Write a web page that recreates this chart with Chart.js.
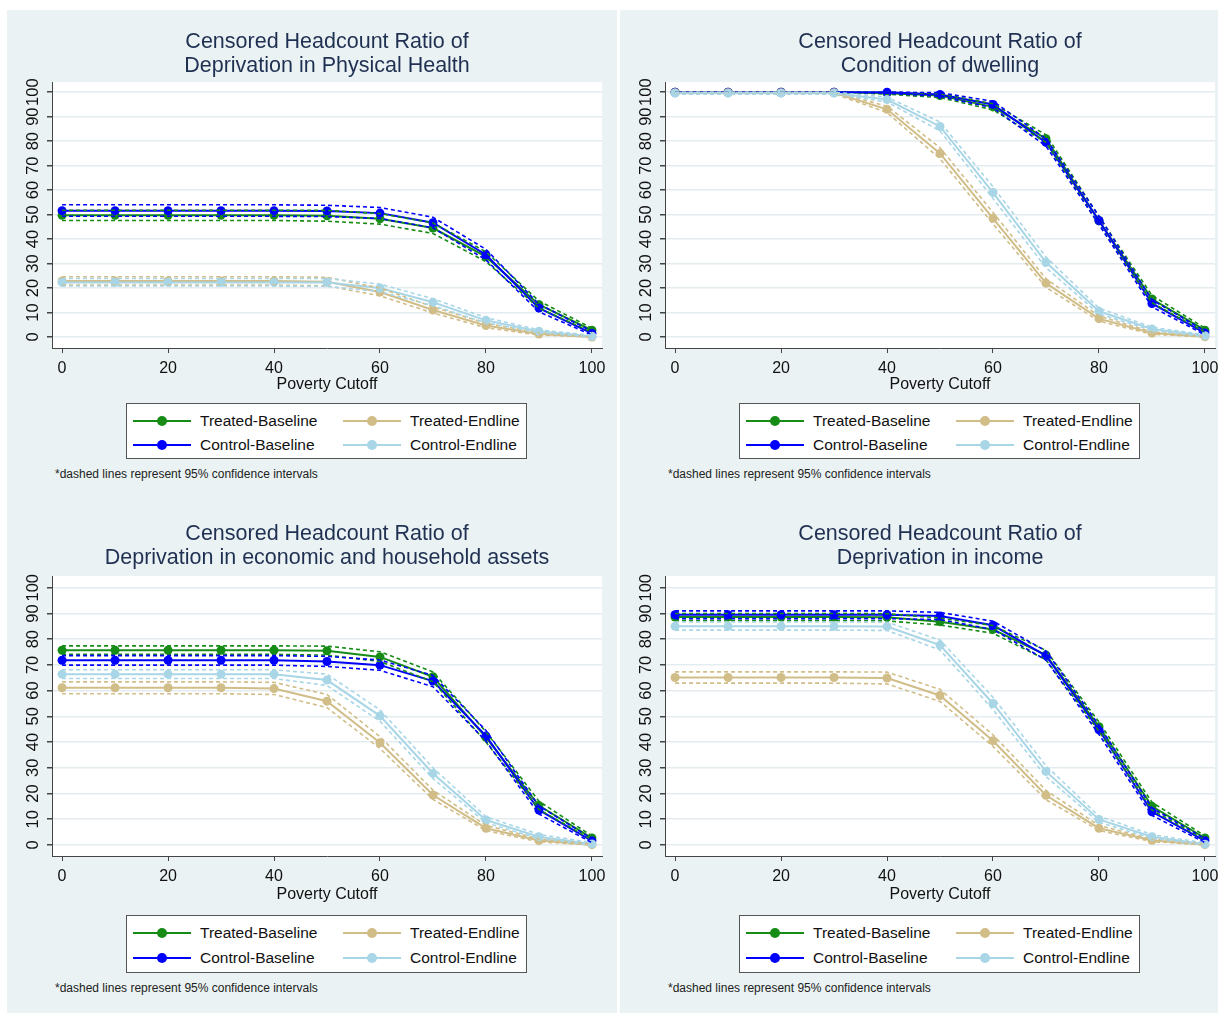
<!DOCTYPE html>
<html>
<head>
<meta charset="utf-8">
<title>Censored Headcount Ratios</title>
<script src="https://cdn.jsdelivr.net/npm/chart.js@4.4.0/dist/chart.umd.min.js"></script>
<style>
    html, body { margin: 0; padding: 0; background: #fff; }
    body { width: 1218px; height: 1013px; position: relative; overflow: hidden; font-family: "Liberation Sans", Arial, sans-serif; }
    .panel { position: absolute; background: #eaf2f3; overflow: hidden; }
    .panel canvas { position: absolute; left: 0; top: 0; }
    .legend { position: absolute; left: 119px; width: 401px; box-sizing: border-box; background: #fff; border: 1px solid #555; }
    .item { position: absolute; height: 20px; width: 200px; font-size: 15.5px; color: #111; line-height: 20px; }
    .item .swatch { position: absolute; left: 0; top: 9px; width: 58px; height: 2px; }
    .item .swatch i { position: absolute; left: 24px; top: -4px; width: 10px; height: 10px; border-radius: 50%; background: inherit; }
    .item span { position: absolute; left: 67px; white-space: nowrap; }
    .note { position: absolute; left: 48px; font-size: 12px; line-height: 14px; color: #222; white-space: nowrap; }
</style>
</head>
<body>
<div class="panel" id="p0" style="left:7px; top:10px; width:610px; height:492px;"></div>
<div class="panel" id="p1" style="left:620px; top:10px; width:610px; height:492px;"></div>
<div class="panel" id="p2" style="left:7px; top:502px; width:610px; height:511px;"></div>
<div class="panel" id="p3" style="left:620px; top:502px; width:610px; height:511px;"></div>

<script>
"use strict";

const cutoffs = [0, 10, 20, 30, 40, 50, 60, 70, 80, 90, 100];
const xTicks = [0, 20, 40, 60, 80, 100];
const yTicks = [0, 10, 20, 30, 40, 50, 60, 70, 80, 90, 100];

const seriesNames = ['Treated-Baseline', 'Control-Baseline', 'Treated-Endline', 'Control-Endline'];
const seriesColors = ['#168c16', '#0000ff', '#d1bd88', '#a9d6e6'];

// Deprivation in Physical Health
const physTB   = [49.7, 49.7, 49.7, 49.7, 49.7, 49.5, 48.3, 44.5, 32.8, 13.2, 2.8];
const physTBLo = [47.6, 47.6, 47.6, 47.6, 47.6, 47.3, 46.1, 42.3, 30.8, 11.8, 2.0];
const physTBHi = [51.8, 51.8, 51.8, 51.8, 51.8, 51.7, 50.4, 46.6, 34.8, 14.7, 3.6];
const physCB   = [51.6, 51.6, 51.6, 51.6, 51.6, 51.5, 50.6, 46.7, 33.6, 11.8, 1.5];
const physCBLo = [49.3, 49.3, 49.3, 49.3, 49.3, 49.2, 48.4, 44.6, 31.5, 10.3, 0.8];
const physCBHi = [54.0, 54.0, 54.0, 54.0, 54.0, 53.8, 52.9, 48.9, 35.8, 13.4, 2.3];
const physTE   = [22.9, 22.9, 22.9, 22.9, 22.9, 22.6, 18.4, 11.0, 4.7, 1.2, 0.0];
const physTELo = [21.2, 21.2, 21.2, 21.2, 21.2, 20.9, 16.8, 9.8, 3.8, 0.8, 0.0];
const physTEHi = [24.6, 24.6, 24.6, 24.6, 24.6, 24.4, 20.0, 12.3, 5.6, 1.7, 0.1];
const physCE   = [22.3, 22.3, 22.3, 22.3, 22.3, 22.3, 20.0, 14.2, 6.8, 2.3, 0.3];
const physCELo = [20.8, 20.8, 20.8, 20.8, 20.8, 20.7, 18.5, 12.8, 5.8, 1.8, 0.0];
const physCEHi = [23.9, 23.9, 23.9, 23.9, 23.9, 23.9, 21.6, 15.6, 7.9, 2.9, 0.7];

// Condition of dwelling
const dwelTB   = [100, 100, 100, 100, 99.6, 98.6, 94.0, 81.0, 47.5, 15.5, 2.8];
const dwelTBLo = [100, 100, 100, 100, 99.2, 97.8, 92.8, 79.5, 46.0, 14.0, 2.0];
const dwelTBHi = [100, 100, 100, 100, 100, 99.4, 95.3, 82.6, 49.2, 17.0, 3.6];
const dwelCB   = [100, 100, 100, 100, 100, 99.1, 95.0, 79.5, 47.6, 13.7, 1.6];
const dwelCBLo = [100, 100, 100, 100, 99.6, 98.3, 93.6, 78.0, 46.0, 12.3, 0.9];
const dwelCBHi = [100, 100, 100, 100, 100, 99.8, 96.3, 81.0, 49.4, 15.2, 2.4];
const dwelTE   = [99.8, 99.8, 99.8, 99.8, 93.0, 75.0, 48.5, 22.0, 7.5, 1.6, 0.1];
const dwelTELo = [99.5, 99.5, 99.5, 99.4, 91.7, 72.8, 46.2, 20.3, 6.5, 1.1, 0.0];
const dwelTEHi = [100, 100, 100, 100, 94.3, 77.3, 50.9, 23.8, 8.6, 2.1, 0.2];
const dwelCE   = [99.6, 99.6, 99.6, 99.6, 97.0, 86.0, 59.0, 30.5, 10.5, 3.3, 0.5];
const dwelCELo = [99.2, 99.2, 99.2, 99.2, 96.0, 84.2, 56.6, 28.3, 9.4, 2.7, 0.1];
const dwelCEHi = [100, 100, 100, 100, 98.0, 87.8, 61.4, 32.7, 11.8, 4.0, 0.9];

// Deprivation in economic and household assets
const assetTB   = [75.7, 75.7, 75.7, 75.7, 75.7, 75.5, 73.1, 65.4, 41.8, 15.3, 2.7];
const assetTBLo = [74.1, 74.1, 74.1, 74.1, 74.1, 73.8, 71.3, 63.5, 40.0, 13.8, 2.0];
const assetTBHi = [77.4, 77.4, 77.4, 77.4, 77.4, 77.3, 75.1, 67.3, 44.0, 17.0, 3.5];
const assetCB   = [71.8, 71.8, 71.8, 71.8, 71.8, 71.3, 69.9, 63.7, 42.4, 13.6, 1.6];
const assetCBLo = [69.9, 69.9, 69.9, 69.9, 69.9, 69.4, 67.9, 61.5, 40.4, 12.0, 0.9];
const assetCBHi = [73.6, 73.6, 73.6, 73.6, 73.6, 73.3, 71.9, 65.9, 44.5, 15.2, 2.4];
const assetTE   = [61.1, 61.1, 61.1, 61.1, 60.8, 55.9, 39.7, 19.4, 6.5, 1.7, 0.1];
const assetTELo = [58.8, 58.8, 58.8, 58.8, 58.5, 53.4, 37.5, 17.7, 5.6, 1.2, 0.0];
const assetTEHi = [63.4, 63.4, 63.4, 63.4, 63.2, 58.5, 42.1, 21.3, 7.6, 2.3, 0.3];
const assetCE   = [66.4, 66.4, 66.4, 66.4, 66.4, 64.1, 50.2, 27.8, 9.7, 3.2, 0.4];
const assetCELo = [64.7, 64.7, 64.7, 64.7, 64.7, 62.0, 48.1, 25.8, 8.6, 2.5, 0.0];
const assetCEHi = [68.1, 68.1, 68.1, 68.1, 68.1, 66.4, 52.5, 30.0, 11.0, 4.1, 0.9];

// Deprivation in income
const incTB   = [88.6, 88.6, 88.6, 88.6, 88.5, 86.8, 83.8, 73.8, 46.0, 15.0, 2.7];
const incTBLo = [87.2, 87.2, 87.2, 87.2, 87.1, 85.5, 82.3, 72.0, 44.2, 13.6, 2.0];
const incTBHi = [90.0, 90.0, 90.0, 90.0, 89.9, 88.2, 85.3, 75.6, 47.8, 16.6, 3.5];
const incCB   = [89.5, 89.5, 89.5, 89.5, 89.5, 89.0, 85.4, 73.6, 44.8, 12.9, 1.6];
const incCBLo = [88.0, 88.0, 88.0, 88.0, 88.0, 87.6, 83.8, 71.9, 43.0, 11.5, 0.9];
const incCBHi = [91.0, 91.0, 91.0, 91.0, 91.0, 90.4, 87.0, 75.4, 46.6, 14.4, 2.4];
const incTE   = [65.1, 65.1, 65.1, 65.1, 64.9, 58.1, 40.5, 19.3, 6.5, 1.8, 0.1];
const incTELo = [62.9, 62.9, 62.9, 62.9, 62.6, 55.8, 38.3, 17.6, 5.6, 1.3, 0.0];
const incTEHi = [67.3, 67.3, 67.3, 67.3, 67.2, 60.5, 42.8, 21.2, 7.6, 2.3, 0.3];
const incCE   = [85.0, 85.0, 85.0, 85.0, 84.9, 77.7, 55.0, 28.6, 9.9, 3.2, 0.3];
const incCELo = [83.5, 83.5, 83.5, 83.5, 83.4, 75.8, 52.6, 26.6, 8.8, 2.6, 0.0];
const incCEHi = [86.7, 86.7, 86.7, 86.7, 86.6, 79.7, 57.4, 30.8, 11.2, 4.0, 0.8];

const panels = [
    {
        id: 'p0', title: ['Censored Headcount Ratio of', 'Deprivation in Physical Health'],
        main: [physTB, physCB, physTE, physCE],
        lo: [physTBLo, physCBLo, physTELo, physCELo],
        hi: [physTBHi, physCBHi, physTEHi, physCEHi],
        canvasH: 390, titleGap: 4, xHeight: 46, padBottom: 6, yMin: -4.5, yMax: 104.1,
        legendTop: 393, legendH: 56, rows: [7, 31], noteTop: 457
    },
    {
        id: 'p1', title: ['Censored Headcount Ratio of', 'Condition of dwelling'],
        main: [dwelTB, dwelCB, dwelTE, dwelCE],
        lo: [dwelTBLo, dwelCBLo, dwelTELo, dwelCELo],
        hi: [dwelTBHi, dwelCBHi, dwelTEHi, dwelCEHi],
        canvasH: 390, titleGap: 4, xHeight: 46, padBottom: 6, yMin: -4.5, yMax: 104.1,
        legendTop: 393, legendH: 56, rows: [7, 31], noteTop: 457
    },
    {
        id: 'p2', title: ['Censored Headcount Ratio of', 'Deprivation in economic and household assets'],
        main: [assetTB, assetCB, assetTE, assetCE],
        lo: [assetTBLo, assetCBLo, assetTELo, assetCELo],
        hi: [assetTBHi, assetCBHi, assetTEHi, assetCEHi],
        canvasH: 404, titleGap: 6, xHeight: 48, padBottom: 2, yMin: -4.3, yMax: 104.5,
        legendTop: 413, legendH: 58, rows: [7, 32], noteTop: 479
    },
    {
        id: 'p3', title: ['Censored Headcount Ratio of', 'Deprivation in income'],
        main: [incTB, incCB, incTE, incCE],
        lo: [incTBLo, incCBLo, incTELo, incCELo],
        hi: [incTBHi, incCBHi, incTEHi, incCEHi],
        canvasH: 404, titleGap: 6, xHeight: 48, padBottom: 2, yMin: -4.3, yMax: 104.5,
        legendTop: 413, legendH: 58, rows: [7, 32], noteTop: 479
    }
];

const fontFamily = '"Liberation Sans", Arial, sans-serif';
const axisColor = '#444';

// white plot region like Stata's plotregion
const plotBg = {
    id: 'plotBg',
    beforeDraw(chart) {
        const {ctx, chartArea} = chart;
        ctx.save();
        ctx.fillStyle = '#ffffff';
        ctx.fillRect(chartArea.left, chartArea.top, chartArea.right - chartArea.left, chartArea.bottom - chartArea.top);
        ctx.restore();
    }
};

function points(values) {
    return cutoffs.map((c, i) => ({x: c, y: values[i]}));
}

function buildDatasets(p) {
    let datasets = [];
    for (let i = 0; i < 4; i++) {
        datasets.push({
            label: seriesNames[i],
            data: points(p.main[i]),
            borderColor: seriesColors[i],
            backgroundColor: seriesColors[i],
            borderWidth: 2,
            pointRadius: 4.5,
            pointBorderWidth: 0,
            tension: 0,
            order: 10 - i
        });
        for (const band of [p.lo[i], p.hi[i]]) {
            datasets.push({
                label: seriesNames[i] + ' CI',
                data: points(band),
                borderColor: seriesColors[i],
                borderWidth: 1.6,
                borderDash: [4, 3],
                pointRadius: 0,
                tension: 0,
                order: 5 - i
            });
        }
    }
    return datasets;
}

function makeLegend(panelEl, p) {
    const box = document.createElement('div');
    box.className = 'legend';
    box.style.top = p.legendTop + 'px';
    box.style.height = p.legendH + 'px';
    // columns: Treated on top row, Control on bottom row
    const spots = [[6, 0], [6, 1], [216, 0], [216, 1]];
    for (let i = 0; i < 4; i++) {
        const item = document.createElement('div');
        item.className = 'item';
        item.style.left = spots[i][0] + 'px';
        item.style.top = p.rows[spots[i][1]] + 'px';
        const sw = document.createElement('div');
        sw.className = 'swatch';
        sw.style.background = seriesColors[i];
        sw.appendChild(document.createElement('i'));
        const txt = document.createElement('span');
        txt.textContent = seriesNames[i];
        item.appendChild(sw);
        item.appendChild(txt);
        box.appendChild(item);
    }
    panelEl.appendChild(box);

    const note = document.createElement('div');
    note.className = 'note';
    note.style.top = p.noteTop + 'px';
    note.textContent = '*dashed lines represent 95% confidence intervals';
    panelEl.appendChild(note);
}

for (const p of panels) {
    const panelEl = document.getElementById(p.id);
    const canvas = document.createElement('canvas');
    canvas.width = 610;
    canvas.height = p.canvasH;
    panelEl.appendChild(canvas);

    new Chart(canvas, {
        type: 'line',
        data: {datasets: buildDatasets(p)},
        options: {
            responsive: false,
            animation: false,
            devicePixelRatio: 1,
            layout: {padding: {top: 0, right: 15, bottom: p.padBottom, left: 0}},
            plugins: {
                legend: {display: false},
                tooltip: {enabled: false},
                title: {
                    display: true,
                    fullSize: false, // center over the plot region, as Stata does
                    text: p.title,
                    color: '#1f3052',
                    font: {family: fontFamily, size: 21.5, weight: 'normal', lineHeight: 1.12},
                    padding: {top: 20, bottom: p.titleGap}
                }
            },
            scales: {
                x: {
                    type: 'linear',
                    min: -1.9,
                    max: 101.9,
                    afterBuildTicks: scale => { scale.ticks = xTicks.map(v => ({value: v})); },
                    afterFit: scale => { scale.height = p.xHeight; },
                    grid: {drawOnChartArea: false, drawTicks: true, tickLength: 5, tickColor: axisColor},
                    border: {display: true, color: axisColor, width: 1},
                    ticks: {color: '#111', font: {family: fontFamily, size: 16}, padding: 6, maxRotation: 0},
                    title: {display: true, text: 'Poverty Cutoff', color: '#111', font: {family: fontFamily, size: 16}, padding: 0}
                },
                y: {
                    min: p.yMin,
                    max: p.yMax,
                    afterBuildTicks: scale => { scale.ticks = yTicks.map(v => ({value: v})); },
                    afterFit: scale => { scale.width = 45; },
                    grid: {color: '#e4ecef', lineWidth: 1.5, drawTicks: true, tickLength: 5, tickColor: axisColor},
                    border: {display: true, color: axisColor, width: 1},
                    ticks: {
                        color: '#111',
                        font: {family: fontFamily, size: 16.5},
                        padding: 0,
                        autoSkip: false,
                        minRotation: 90,
                        maxRotation: 90,
                        crossAlign: 'center'
                    }
                }
            }
        },
        plugins: [plotBg]
    });

    makeLegend(panelEl, p);
}
</script>
</body>
</html>
